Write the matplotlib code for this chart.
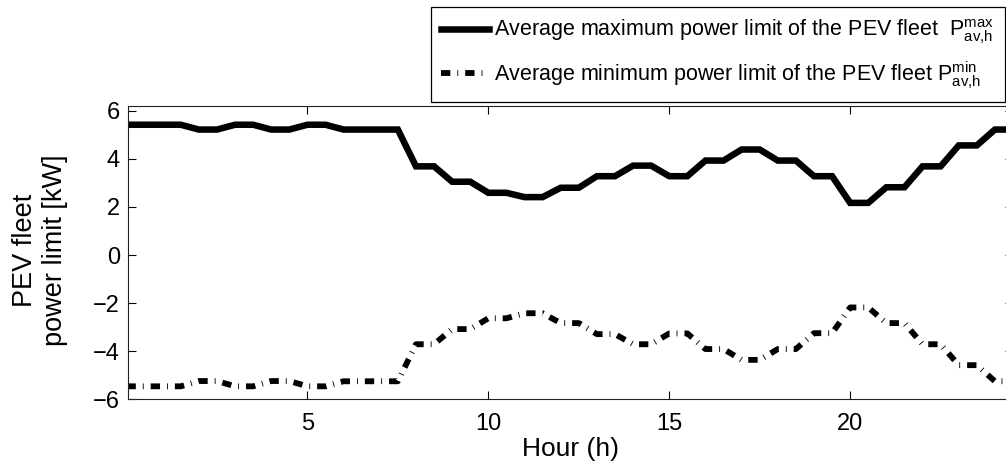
import matplotlib
matplotlib.use("Agg")
import matplotlib.pyplot as plt
import numpy as np

plt.rcParams["font.family"] = ["Liberation Sans", "DejaVu Sans"]
plt.rcParams["mathtext.fontset"] = "custom"
plt.rcParams["mathtext.rm"] = "Liberation Sans"
plt.rcParams["mathtext.it"] = "Liberation Sans"

# half-hourly time stamps (h)
hours = np.arange(0, 24.5 + 0.01, 0.5)

# average maximum power limit of the PEV fleet [kW], half-hourly
p_max = [
    5.42, 5.42, 5.42, 5.42, 5.22, 5.22, 5.42, 5.42, 5.22, 5.22,
    5.42, 5.42, 5.22, 5.22, 5.22, 5.22, 3.69, 3.69, 3.05, 3.05,
    2.59, 2.59, 2.41, 2.41, 2.80, 2.80, 3.28, 3.28, 3.72, 3.72,
    3.28, 3.28, 3.93, 3.93, 4.39, 4.39, 3.93, 3.93, 3.28, 3.28,
    2.17, 2.17, 2.82, 2.82, 3.69, 3.69, 4.56, 4.56, 5.22, 5.22,
]

# average minimum power limit of the PEV fleet [kW], half-hourly
p_min = [
    -5.46, -5.46, -5.46, -5.46, -5.24, -5.24, -5.46, -5.46, -5.24, -5.24,
    -5.46, -5.46, -5.25, -5.25, -5.25, -5.25, -3.71, -3.71, -3.08, -3.08,
    -2.63, -2.63, -2.42, -2.42, -2.83, -2.83, -3.29, -3.29, -3.71, -3.71,
    -3.26, -3.26, -3.91, -3.91, -4.36, -4.36, -3.91, -3.91, -3.25, -3.25,
    -2.18, -2.18, -2.83, -2.83, -3.71, -3.71, -4.58, -4.58, -5.25, -5.25,
]

W, H = 1006, 466
fig = plt.figure(figsize=(W / 100, H / 100), dpi=100)
ax = fig.add_axes([128.3 / W, 1 - 399.3 / H, (1013 - 128.3) / W, (399.3 - 106) / H])

ax.plot(hours, p_max, color="black", lw=4.7, solid_joinstyle="miter",
        label=r"Average maximum power limit of the PEV fleet  $\mathrm{P}^{\mathrm{max}}_{\mathrm{av{,}h}}$")
ax.plot(hours, p_min, color="black", lw=4.2, dashes=(1.6, 1.2, 0.15, 1.2),
        label=r"Average minimum power limit of the PEV fleet $\mathrm{P}^{\mathrm{min}}_{\mathrm{av{,}h}}$")

ax.set_xlim(0.05, 24.5)
ax.set_ylim(-6, 6.2)
ax.set_xticks([5, 10, 15, 20])
ax.set_yticks([-6, -4, -2, 0, 2, 4, 6])
ax.set_yticklabels(["\u22126", "\u22124", "\u22122", "0", "2", "4", "6"])
ax.tick_params(direction="in", length=5.8, width=0.8, top=True, right=True,
               labelsize=17, pad=6)
ax.tick_params(axis="x", pad=10)
for spine in ax.spines.values():
    spine.set_linewidth(0.8)
    spine.set_color("#222222")

ax.set_xlabel("Hour (h)", fontsize=19, labelpad=1)
fig.text(40 / W, 1 - 250 / H, "PEV fleet\npower limit [kW]", rotation=90,
         ha="center", va="center", fontsize=19.5, multialignment="center",
         linespacing=1.2)

leg = fig.legend(loc="upper right", bbox_to_anchor=(1005 / W, 1 - 6.7 / H),
                 bbox_transform=fig.transFigure, borderaxespad=0, fontsize=15.5,
                 fancybox=False, edgecolor="black", framealpha=1,
                 handlelength=2.2, handletextpad=0.25, borderpad=0.5,
                 labelspacing=0.62)
leg.get_frame().set_linewidth(0.9)

fig.savefig("out.png", dpi=100)
